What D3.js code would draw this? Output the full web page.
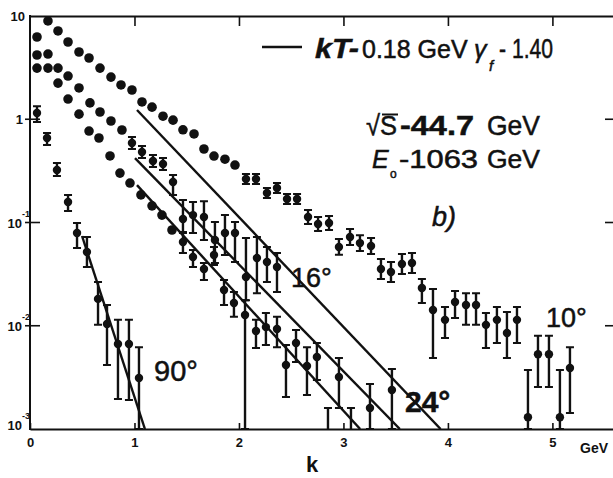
<!DOCTYPE html>
<html lang="en">
<head>
<meta charset="UTF-8" />
<title>Photon spectra, sqrt(s) = 44.7 GeV</title>
<style>
  body { margin: 0; background: #fff; }
  svg { display: block; background: #fff; }
  text { font-family: "Liberation Sans", Arial, sans-serif; fill: #111; }
</style>
</head>
<body>
<svg></svg>
<script src="https://d3js.org/d3.v7.min.js"></script>
<script>
const width = 613, height = 478;

// 10 deg: k (GeV), value, error bar low / high (null = no bar)
const k10 = [0.067,0.172,0.268,0.364,0.469,0.565,0.670,0.775,0.871,0.976,1.072,1.168,1.273,1.369,1.464,1.570,1.665,1.761,1.866,1.962,
             2.067,2.163,2.268,2.364,2.460,2.556,2.661,2.757,2.862,2.957,3.063,3.158,3.264,3.359,3.455,3.560,3.656,3.751,3.857,3.972,
             4.068,4.173,4.269,4.364,4.469,4.565,4.661,4.766,4.862,4.967,5.072,5.168];
const v10 = [6.26,8.95,7.16,5.60,4.48,3.92,3.13,2.56,2.15,1.92,1.47,1.31,1.07,0.98,0.79,0.72,0.515,0.44,0.41,0.36,
             0.264,0.264,0.193,0.216,0.169,0.169,0.113,0.0966,0.0988,0.058,0.0724,0.0632,0.0592,0.0355,0.0332,0.0396,0.0405,0.0232,0.0142,0.0114,
             0.0170,0.0159,0.0159,0.0102,0.0114,0.0085,0.0114,0.0013,0.0053,0.0053,0.0013,0.0039];
const lo10 = [...Array(20).fill(null),
             0.236,0.236,0.173,0.193,0.151,0.151,0.0966,0.0826,0.0845,0.0486,0.0607,0.053,0.0496,0.0284,0.0266,0.0317,0.0324,0.0166,0.00487,0.0076,
             0.0119,0.0102,0.0102,0.0061,0.0068,0.00487,0.0068,0.001,0.00255,0.00255,0.001,0.00143];
const hi10 = [...Array(20).fill(null),
             0.295,0.295,0.216,0.241,0.189,0.189,0.132,0.113,0.1155,0.0692,0.0864,0.0754,0.0706,0.0444,0.0415,0.0495,0.0506,0.0284,0.0227,0.0152,
             0.0217,0.0207,0.0207,0.0133,0.0152,0.0136,0.0152,0.00372,0.0080,0.0080,0.00372,0.0062];

// 16 deg
const k16 = [0.067,0.172,0.268,0.364,0.469,0.574,0.670,0.775,0.880,0.976,1.072,1.177,1.273,1.369,1.464,1.560,1.665,1.770,1.866,1.962,
             2.067,2.172,2.268,2.364,2.546,2.746,2.957,3.464];
const v16 = [4.19,4.28,3.13,2.62,2.01,1.44,1.175,0.962,0.787,0.589,0.482,0.394,0.369,0.247,0.108,0.118,0.113,0.0677,0.079,0.079,
             0.0297,0.0453,0.0414,0.0371,0.0068,0.00498,0.00319,0.00239];
const lo16 = [...Array(9).fill(null),
             0.515,0.421,0.345,0.323,0.185,0.079,0.079,0.0677,0.0405,0.0484,0.0414,0.0177,0.0207,0.0265,0.0212,0.00446,0.00298,0.0016,0.001];
const hi16 = [...Array(9).fill(null),
             0.673,0.551,0.451,0.422,0.288,0.165,0.158,0.161,0.101,0.118,0.101,0.0708,0.0724,0.058,0.0507,0.0091,0.0068,0.00487,0.00381];

// 24 deg
const k24 = [0.067,0.172,0.268,0.364,0.469,0.565,0.660,0.766,0.861,0.957,1.062,1.168,1.263,1.359,1.464,1.560,1.665,1.761,1.857,1.952,
             2.058,2.163,2.258,2.364,2.450,2.651,2.852,3.072,3.254];
const v24 = [3.13,3.13,2.24,1.57,1.12,0.769,0.658,0.441,0.301,0.241,0.185,0.145,0.118,0.0846,0.0647,0.0463,0.0355,0.0484,0.0222,0.0166,
             0.0127,0.0089,0.0097,0.0093,0.00417,0.00407,0.0008,0.0008,0.0016];
const lo24 = [...Array(14).fill(null),
             0.0507,0.0371,0.0277,0.0388,0.0159,0.0122,0.001,0.0061,0.0065,0.0062,0.00204,0.00213,0.0005,0.0005,0.001];
const hi24 = [...Array(14).fill(null),
             0.0809,0.0542,0.0405,0.058,0.0277,0.0212,0.0177,0.0114,0.0133,0.0122,0.0065,0.0062,0.0016,0.0016,0.00273];

// 90 deg
const k90 = [0.067,0.163,0.258,0.364,0.450,0.545,0.651,0.737,0.842,0.947,1.043];
const v90 = [1.15,0.658,0.322,0.158,0.079,0.0518,0.0182,0.0104,0.00665,0.00665,0.00312];
const lo90 = [0.94,0.563,0.282,0.129,0.0566,0.0371,0.0102,0.00417,0.00195,0.00191,0.001];
const hi90 = [1.34,0.736,0.377,0.185,0.0989,0.0724,0.0265,0.0159,0.0114,0.0114,0.0062];

// thermal fits (kT = 0.18 GeV), straight lines on the log plot
const fitNames = ["10°", "16°", "24°", "90°"];
const fitK0 = [1.024, 1.005, 1.024, 0.498];
const fitV0 = [1.23, 0.42, 0.23, 0.074];
const fitK1 = [3.93, 3.54, 3.16, 1.10];
const fitV1 = [0.001, 0.001, 0.001, 0.001];

const xTicks = [0, 1, 2, 3, 4, 5];
const yTicks = [10, 1, 0.1, 0.01, 0.001];
const yTickBase = ["10", "1", "10", "10", "10"];
const yTickExp = ["", "", "-1", "-2", "-3"];

const svg = d3.select("svg").attr("width", width).attr("height", height);

const x = d3.scaleLinear().domain([0, 5.58]).range([30, 613]);
const y = d3.scaleLog().domain([1e-3, 10]).range([429, 16]);

svg.append("defs").append("clipPath").attr("id", "plot")
  .append("rect")
  .attr("x", x(0)).attr("y", y(10))
  .attr("width", x(5.58) - x(0)).attr("height", y(1e-3) - y(10));

// frame + axes
const bottomAxis = svg.append("g")
  .attr("transform", `translate(0,${y(1e-3)})`)
  .call(d3.axisBottom(x).tickValues(xTicks).tickSizeInner(-6).tickSizeOuter(0)
    .tickPadding(9).tickFormat(d3.format("d")));
bottomAxis.select(".domain").attr("stroke", "#111").attr("stroke-width", 2);
bottomAxis.selectAll(".tick line").attr("stroke", "#111").attr("stroke-width", 1.6);
bottomAxis.selectAll(".tick text")
  .attr("font-family", "'Liberation Sans', Arial, sans-serif")
  .attr("font-size", 13).attr("font-weight", "bold").attr("fill", "#111");

const topAxis = svg.append("g")
  .attr("transform", `translate(0,${y(10)})`)
  .call(d3.axisTop(x).tickValues(xTicks.slice(1)).tickSizeInner(-10).tickSizeOuter(0).tickFormat(""));
topAxis.select(".domain").attr("stroke", "#111").attr("stroke-width", 2);
topAxis.selectAll(".tick line").attr("stroke", "#111").attr("stroke-width", 1.6);

svg.append("line")
  .attr("x1", x(0)).attr("x2", x(0))
  .attr("y1", y(10) - 1).attr("y2", y(1e-3) + 1)
  .attr("stroke", "#111").attr("stroke-width", 2);

svg.append("g").selectAll("line")
  .data(yTicks.slice(1, 4))
  .join("line")
  .attr("x1", x(0) - 5).attr("x2", x(0) + 10)
  .attr("y1", d => y(d)).attr("y2", d => y(d))
  .attr("stroke", "#111").attr("stroke-width", 1.6);

svg.append("g").selectAll("line")
  .data(yTicks.slice(1, 4))
  .join("line")
  .attr("x1", x(5.58) - 8).attr("x2", x(5.58))
  .attr("y1", d => y(d)).attr("y2", d => y(d))
  .attr("stroke", "#111").attr("stroke-width", 1.6);

// y labels with exponents
svg.append("g")
  .attr("font-weight", "bold")
  .selectAll("text")
  .data(yTicks)
  .join("text")
  .attr("x", (d, i) => i === 0 ? 25 : (i === 1 ? 23 : 22))
  .attr("y", (d, i) => y(d) + (i === 4 ? 1 : 5))
  .attr("text-anchor", "end")
  .attr("font-size", 13)
  .text((d, i) => yTickBase[i]);

svg.append("g")
  .attr("font-weight", "bold")
  .selectAll("text")
  .data(yTicks.filter((d, i) => yTickExp[i]))
  .join("text")
  .attr("x", 22)
  .attr("y", (d, i) => y(d) + (i === 2 ? -10 : -6))
  .attr("font-size", 9)
  .text((d, i) => yTickExp[i + 2]);

// fits
const plot = svg.append("g").attr("clip-path", "url(#plot)");
const line = d3.line().x(d => x(d[0])).y(d => y(d[1]));
plot.selectAll("path.fit")
  .data(fitNames.map((n, i) => [[fitK0[i], fitV0[i]], [fitK1[i], fitV1[i]]]))
  .join("path")
  .attr("class", "fit")
  .attr("d", line)
  .attr("fill", "none")
  .attr("stroke", "#111")
  .attr("stroke-width", 2.4);

// data points
const series = [
  { name: "10°", k: k10, v: v10, lo: lo10, hi: hi10 },
  { name: "16°", k: k16, v: v16, lo: lo16, hi: hi16 },
  { name: "24°", k: k24, v: v24, lo: lo24, hi: hi24 },
  { name: "90°", k: k90, v: v90, lo: lo90, hi: hi90 }
];
const pts = series.flatMap(s => s.k.map((k, i) => ({ k, v: s.v[i], lo: s.lo[i], hi: s.hi[i] })));
const withErr = pts.filter(d => d.lo != null);

plot.selectAll("line.err")
  .data(withErr)
  .join("line")
  .attr("class", "err")
  .attr("x1", d => x(d.k)).attr("x2", d => x(d.k))
  .attr("y1", d => y(d.hi)).attr("y2", d => y(d.lo))
  .attr("stroke", "#111").attr("stroke-width", 2.4);

plot.selectAll("path.cap")
  .data(withErr)
  .join("path")
  .attr("class", "cap")
  .attr("d", d => `M${x(d.k) - 4},${y(d.hi)}h8M${x(d.k) - 4},${y(d.lo)}h8`)
  .attr("stroke", "#111").attr("stroke-width", 2);

plot.selectAll("circle")
  .data(pts)
  .join("circle")
  .attr("cx", d => x(d.k))
  .attr("cy", d => y(d.v))
  .attr("r", d => d.lo != null ? 4.2 : 4.8)
  .attr("fill", "#111");

// annotations
svg.append("line")
  .attr("x1", 262).attr("x2", 302).attr("y1", 47).attr("y2", 47)
  .attr("stroke", "#111").attr("stroke-width", 2.4);

const ann = svg.append("g").attr("stroke", "#111").attr("stroke-width", 0.5);
ann.append("text").attr("x", 315).attr("y", 58).attr("font-size", 27)
  .attr("font-style", "italic").attr("font-weight", "bold")
  .attr("textLength", 44).attr("lengthAdjust", "spacingAndGlyphs").text("kT-");
ann.append("text").attr("x", 362).attr("y", 58).attr("font-size", 25).text("0.18 GeV");
ann.append("text").attr("x", 474).attr("y", 58).attr("font-size", 25).attr("font-style", "italic").text("γ");
ann.append("text").attr("x", 489).attr("y", 71).attr("font-size", 15).attr("font-style", "italic").text("f");
ann.append("text").attr("x", 499).attr("y", 58).attr("font-size", 27)
  .attr("textLength", 54).attr("lengthAdjust", "spacingAndGlyphs").text("- 1.40");

ann.append("text").attr("x", 366).attr("y", 135).attr("font-size", 28)
  .attr("textLength", 31).attr("lengthAdjust", "spacingAndGlyphs").text("√S");
svg.append("line").attr("x1", 382).attr("x2", 398).attr("y1", 114.5).attr("y2", 114.5)
  .attr("stroke", "#111").attr("stroke-width", 2);
ann.append("text").attr("x", 400).attr("y", 135).attr("font-size", 28).attr("font-weight", "bold")
  .attr("textLength", 74).attr("lengthAdjust", "spacingAndGlyphs").text("-44.7");
ann.append("text").attr("x", 487).attr("y", 135).attr("font-size", 28)
  .attr("textLength", 53).attr("lengthAdjust", "spacingAndGlyphs").text("GeV");

ann.append("text").attr("x", 372).attr("y", 168).attr("font-size", 25)
  .attr("font-style", "italic").text("E");
ann.append("text").attr("x", 390).attr("y", 178).attr("font-size", 12).text("o");
ann.append("text").attr("x", 399).attr("y", 168).attr("font-size", 25)
  .attr("textLength", 79).attr("lengthAdjust", "spacingAndGlyphs").text("-1063");
ann.append("text").attr("x", 487).attr("y", 168).attr("font-size", 25)
  .attr("textLength", 53).attr("lengthAdjust", "spacingAndGlyphs").text("GeV");

ann.append("text").attr("x", 432).attr("y", 226).attr("font-size", 27)
  .attr("font-style", "italic").text("b)");

ann.append("text").attr("x", 291).attr("y", 287).attr("font-size", 27).text("16°");
ann.append("text").attr("x", 154).attr("y", 381).attr("font-size", 29).text("90°");
ann.append("text").attr("x", 546).attr("y", 327).attr("font-size", 27).text("10°");
ann.append("text").attr("x", 405).attr("y", 412).attr("font-size", 30).attr("font-weight", "bold").text("24°");

svg.append("text").attr("x", 312).attr("y", 472).attr("text-anchor", "middle")
  .attr("font-size", 22).attr("font-weight", "bold").text("k");
svg.append("text").attr("x", 580).attr("y", 453)
  .attr("font-size", 14).attr("font-weight", "bold").text("GeV");
</script>
</body>
</html>
